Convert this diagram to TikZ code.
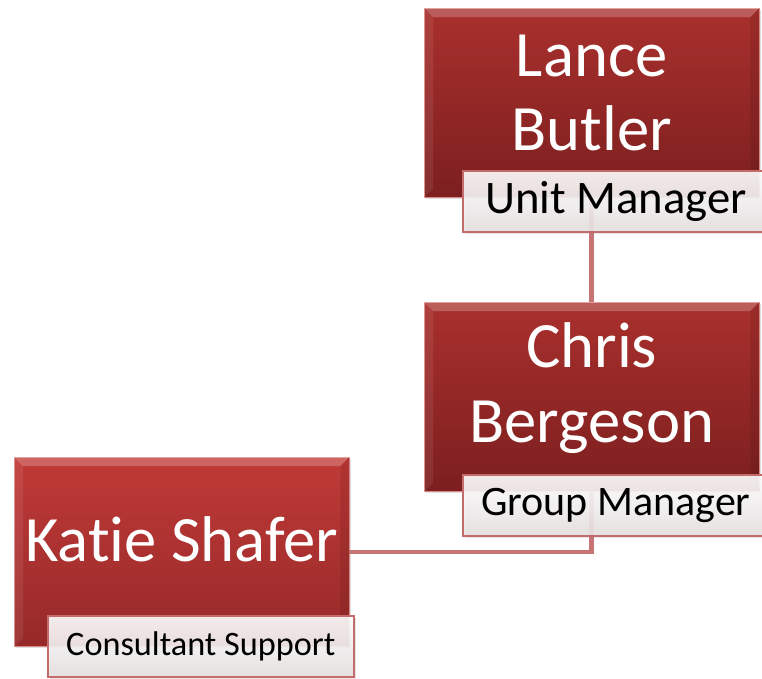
\documentclass[tikz,border=0pt]{standalone}
\usepackage{fontspec}
\setmainfont{Carlito}[Ligatures=NoCommon]
\usetikzlibrary{positioning,calc,shadows}
\definecolor{darktop}{HTML}{A9302D}
\definecolor{darkbottom}{HTML}{7C1F1F}
\definecolor{lighttop}{HTML}{C03A37}
\definecolor{lightbottom}{HTML}{962929}
\definecolor{boxedge}{HTML}{D98A86}
\definecolor{roleedge}{HTML}{C46B6B}
\definecolor{rolebottom}{HTML}{E6E1E1}
\definecolor{linkred}{HTML}{C97474}
\newcommand{\bevel}[1]{%
  \fill[white, opacity=0.22] (#1.north west) -- (#1.north east) -- ($(#1.north east)+(-9,9)$) -- ($(#1.north west)+(9,9)$) -- cycle;
  \fill[white, opacity=0.08] (#1.north west) -- ($(#1.north west)+(9,9)$) -- ($(#1.south west)+(9,-9)$) -- (#1.south west) -- cycle;
  \fill[black, opacity=0.08] (#1.north east) -- (#1.south east) -- ($(#1.south east)+(-9,-9)$) -- ($(#1.north east)+(-9,9)$) -- cycle;
}
\begin{document}
\begin{tikzpicture}[x=0.75pt, y=-0.75pt]
  \tikzstyle{person} = [rectangle, draw=boxedge, line width=0.6pt, minimum width=251pt, minimum height=141.75pt, inner sep=0pt, below right, drop shadow={shadow xshift=1.5pt, shadow yshift=-1.5pt, opacity=0.25}]
  \tikzstyle{personname} = [text=white, align=center, inner sep=0pt, font=\fontsize{48.5}{56}\selectfont]
  \tikzstyle{rolebox} = [rectangle, draw=roleedge, line width=1.3pt, top color=white, bottom color=rolebottom, fill opacity=0.9, text opacity=1, minimum width=229.5pt, minimum height=45.75pt, inner sep=0pt, below right, drop shadow={shadow xshift=1.5pt, shadow yshift=-1.5pt, opacity=0.2}]
  \tikzstyle{orgline} = [draw=linkred, line width=3.5pt]

  \useasboundingbox (0,0) rectangle (762,678);
  \clip (0,0) rectangle (762,678);

  % boxes
  \node[person, top color=darktop, bottom color=darkbottom] (lance) at (424,8) {};
  \node[person, top color=darktop, bottom color=darkbottom] (chris) at (424,302) {};
  \node[person, top color=lighttop, bottom color=lightbottom] (katie) at (14,457) {};

  % connectors
  \draw[orgline] (lance.south) -- (chris.north);
  \draw[orgline] (chris.south) |- (katie.east);

  \bevel{lance}
  \bevel{chris}
  \bevel{katie}

  \node[personname] (lancename) at ($(lance.center)+(0,-10)$) {Lance\\Butler};
  \node[personname] (chrisname) at ($(chris.center)+(0,-9)$) {Chris\\Bergeson};
  \node[personname] (katiename) at ($(katie.center)+(0,-13)$) {Katie Shafer};

  % titles
  \node[rolebox, font=\fontsize{35}{40}\selectfont] (lancerole) at ($(lance.south west)+(38,-28)$) {Unit Manager};
  \node[rolebox, font=\fontsize{31.5}{36}\selectfont] (chrisrole) at ($(chris.south west)+(38,-18)$) {Group Manager};
  \node[rolebox, font=\fontsize{25.7}{30}\selectfont] (katierole) at ($(katie.south west)+(33,-32)$) {Consultant Support};
\end{tikzpicture}
\end{document}
